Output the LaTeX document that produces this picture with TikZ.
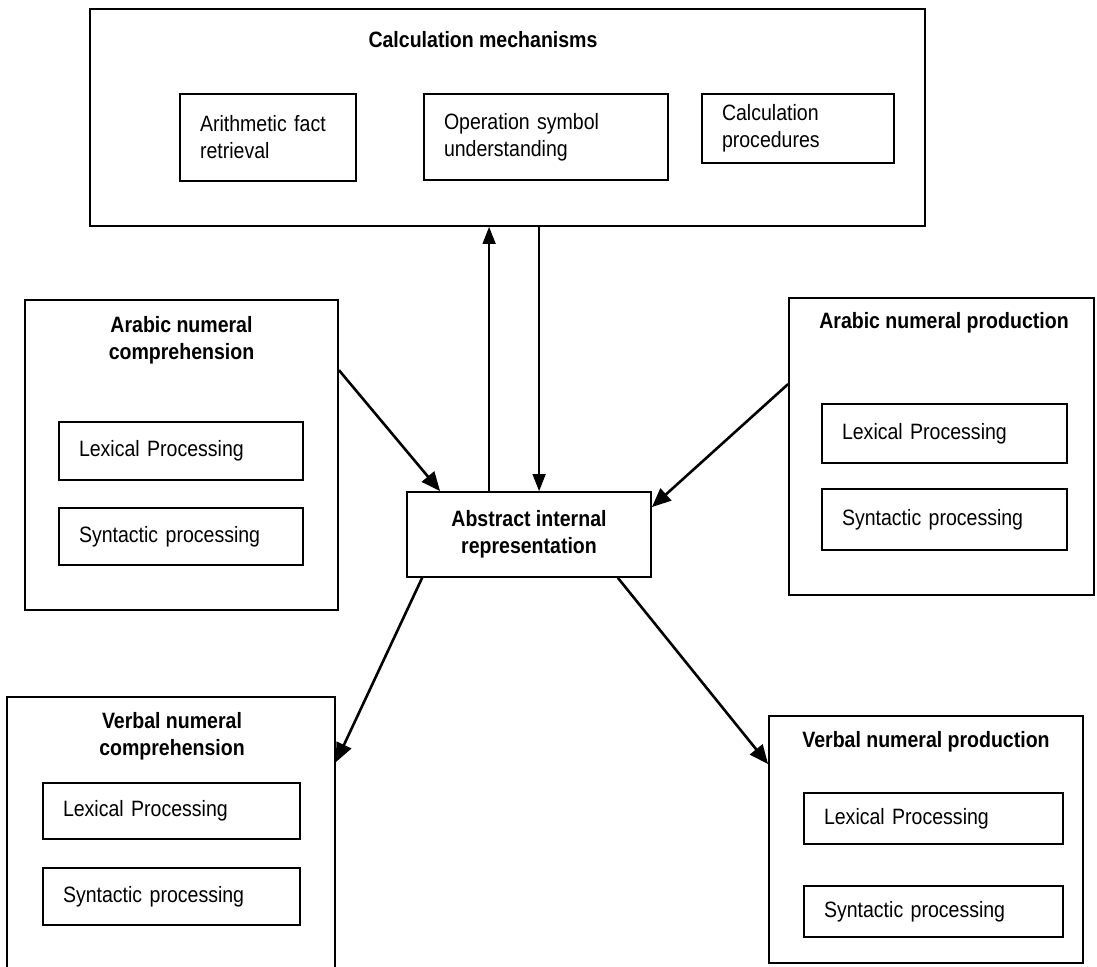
\documentclass[tikz,border=0pt]{standalone}
\usepackage{fontspec}
\setmainfont{Liberation Sans}[FakeStretch=0.88]
\usetikzlibrary{arrows.meta,calc}
\newcommand\tightspace{\fontdimen2\font=5.3pt\relax}
\begin{document}
\begin{tikzpicture}[x=1pt,y=-1pt,
  obox/.style={draw, line width=1.8pt, inner sep=0pt},
  ibox/.style={draw, line width=1.7pt, inner xsep=20pt, inner ysep=0pt, align=left, font=\fontsize{22.2}{27}\selectfont\tightspace},
  ttl/.style={inner sep=0pt, anchor=north, align=center, font=\bfseries\fontsize{22.2}{27}\selectfont\tightspace},
  arr/.style={line width=2.6pt, -{Triangle[length=19pt,width=16pt]}},
  varr/.style={line width=1.5pt, -{Triangle[length=17pt,width=13pt]}}]
\clip (0,0) rectangle (1097,966);
\fill[white] (0,0) rectangle (1097,966);

% Calculation mechanisms
\node[obox, minimum width=835pt, minimum height=217pt] (calc) at (507.5,117.5) {};
\node[ttl] (calcT) at (483,31) {Calculation mechanisms};
\node[ibox, text width=136pt, minimum width=176pt, minimum height=87pt] (arith) at (268,137.5) {Arithmetic fact\\retrieval};
\node[ibox, text width=204pt, minimum width=244pt, minimum height=86pt] (oper) at (546,137) {Operation symbol\\understanding};
\node[ibox, text width=152pt, minimum width=192pt, minimum height=69pt] (proc) at (798,128.5) {Calculation\\procedures};

% Arabic numeral comprehension
\node[obox, minimum width=313pt, minimum height=310pt] (anc) at (181.5,455) {};
\node[ttl] (ancT) at (181.5,316) {Arabic numeral\\comprehension};
\node[ibox, text width=204pt, minimum width=244pt, minimum height=58pt] (ancL) at (181,451) {Lexical Processing};
\node[ibox, text width=204pt, minimum width=244pt, minimum height=57pt] (ancS) at (181,536.5) {Syntactic processing};

% Arabic numeral production
\node[obox, minimum width=305pt, minimum height=297pt] (anp) at (941.5,446.5) {};
\node[ttl] (anpT) at (944,312) {Arabic numeral production};
\node[ibox, text width=205pt, minimum width=245pt, minimum height=59pt] (anpL) at (944.5,433.5) {Lexical Processing};
\node[ibox, text width=205pt, minimum width=245pt, minimum height=61pt] (anpS) at (944.5,519.5) {Syntactic processing};

% Abstract internal representation
\node[obox, minimum width=244pt, minimum height=85pt, align=center, font=\bfseries\fontsize{22.2}{27}\selectfont\tightspace] (air) at (529,534.5) {Abstract internal\\representation};

% Verbal numeral comprehension
\node[obox, minimum width=328pt, minimum height=313pt] (vnc) at (171,853.5) {};
\node[ttl] (vncT) at (172,712) {Verbal numeral\\comprehension};
\node[ibox, text width=217pt, minimum width=257pt, minimum height=56pt] (vncL) at (171.5,811) {Lexical Processing};
\node[ibox, text width=217pt, minimum width=257pt, minimum height=57pt] (vncS) at (171.5,896.5) {Syntactic processing};

% Verbal numeral production
\node[obox, minimum width=314pt, minimum height=247pt] (vnp) at (926,839.5) {};
\node[ttl] (vnpT) at (926,731) {Verbal numeral production};
\node[ibox, text width=219pt, minimum width=259pt, minimum height=51pt] (vnpL) at (933.5,818.5) {Lexical Processing};
\node[ibox, text width=219pt, minimum width=259pt, minimum height=51pt] (vnpS) at (933.5,911.5) {Syntactic processing};

% connectors
\coordinate (upB) at ([xshift=83pt]air.north west);
\coordinate (dnB) at ([xshift=133pt]air.north west);
\draw[varr] (upB) -- (upB |- calc.south);
\draw[varr] (dnB |- calc.south) -- (dnB);
\draw[arr] ([yshift=-71pt]anc.north east) -- ([xshift=34pt]air.north west);
\draw[arr] ([yshift=-87pt]anp.north west) -- ([yshift=-16pt]air.north east);
\draw[arr] ([xshift=16pt]air.south west) -- ([yshift=-66pt]vnc.north east);
\draw[arr] ([xshift=-34pt]air.south east) -- ([yshift=-49pt]vnp.north west);
\end{tikzpicture}
\end{document}
